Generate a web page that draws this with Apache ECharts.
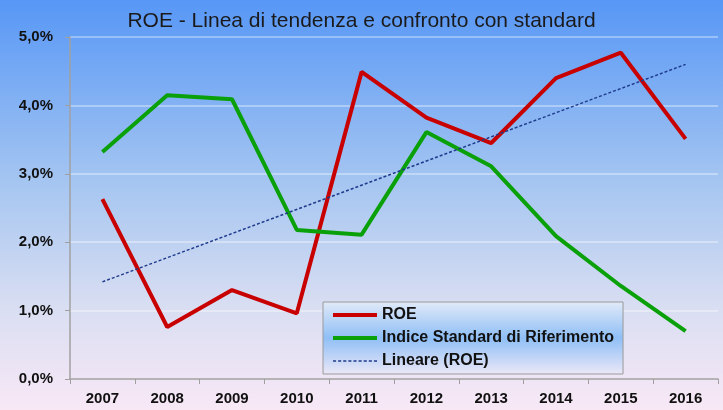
<!DOCTYPE html>
<html>
<head>
<meta charset="utf-8">
<script src="https://cdn.jsdelivr.net/npm/echarts@6/dist/echarts.min.js"></script>
<style>
  html, body { margin: 0; padding: 0; }
  #chart { width: 723px; height: 410px; }
</style>
</head>
<body>
<div id="chart"></div>
<script>
var years = ['2007', '2008', '2009', '2010', '2011', '2012', '2013', '2014', '2015', '2016'];
var roe = [2.63, 0.76, 1.30, 0.96, 4.49, 3.82, 3.45, 4.40, 4.77, 3.51];
var indice = [3.32, 4.15, 4.09, 2.18, 2.11, 3.61, 3.11, 2.09, 1.36, 0.70];
// trend line: only its two ends, joined straight
var lineare = [1.42, '-', '-', '-', '-', '-', '-', '-', '-', 4.60];

var font = '"Liberation Sans", sans-serif';

// legend glyphs: a thick bar, and a row of small dashes
var solidIcon = 'path://M0,0 L44,0 L44,4 L0,4 Z';
var dashIcon = 'path://' + (function () {
    var p = '';
    for (var x = 0; x < 44; x += 5) {
        p += 'M' + x + ',0 L' + (x + 3) + ',0 L' + (x + 3) + ',1.5 L' + x + ',1.5 Z ';
    }
    return p;
})();

var chart = echarts.init(document.getElementById('chart'));

var option = {
    backgroundColor: new echarts.graphic.LinearGradient(0, 0, 0, 1, [
        { offset: 0, color: '#5797f6' },
        { offset: 0.45, color: '#a6c6f1' },
        { offset: 0.75, color: '#d9def2' },
        { offset: 1, color: '#f8e8f6' }
    ]),
    title: {
        text: 'ROE - Linea di tendenza e confronto con standard',
        left: 'center',
        top: 6,
        textStyle: { fontFamily: font, fontSize: 21, fontWeight: 'normal', color: '#1a1a1a' }
    },
    grid: { left: 70, right: 5, top: 37, bottom: 31 },
    legend: {
        orient: 'vertical',
        left: 323,
        top: 302,
        padding: [5, 9, 5, 10],
        itemGap: 7,
        itemWidth: 44,
        itemHeight: 15,
        backgroundColor: new echarts.graphic.LinearGradient(0, 0, 0, 1, [
            { offset: 0, color: '#e2eaf8' },
            { offset: 0.5, color: '#8fbff6' },
            { offset: 1, color: '#ece8f7' }
        ]),
        borderColor: '#9a9a9a',
        borderWidth: 1,
        textStyle: { fontFamily: font, fontSize: 16, fontWeight: 'bold', color: '#111' },
        data: [
            { name: 'ROE', icon: solidIcon },
            { name: 'Indice Standard di Riferimento', icon: solidIcon },
            { name: 'Lineare (ROE)', icon: dashIcon }
        ]
    },
    xAxis: {
        type: 'category',
        data: years,
        boundaryGap: true,
        axisLine: { lineStyle: { color: '#a0a0a0', width: 1.5 } },
        axisTick: { show: true, length: 5, lineStyle: { color: '#a0a0a0' } },
        axisLabel: { fontFamily: font, fontSize: 15, fontWeight: 'bold', color: '#111', margin: 12 },
        splitLine: { show: false }
    },
    yAxis: {
        type: 'value',
        min: 0,
        max: 5,
        interval: 1,
        axisLine: { show: true, lineStyle: { color: '#a0a0a0', width: 1.5 } },
        axisTick: { show: true, length: 5, lineStyle: { color: '#a0a0a0' } },
        axisLabel: {
            fontFamily: font, fontSize: 15, fontWeight: 'bold', color: '#111', margin: 17,
            formatter: function (v) { return v.toFixed(1).replace('.', ',') + '%'; }
        },
        splitLine: { lineStyle: { color: 'rgba(255,255,255,0.45)', width: 1.5 } }
    },
    series: [
        {
            name: 'ROE',
            type: 'line',
            data: roe,
            symbol: 'none',
            itemStyle: { color: '#c80000' },
            lineStyle: { color: '#c80000', width: 4 },
            z: 3
        },
        {
            name: 'Indice Standard di Riferimento',
            type: 'line',
            data: indice,
            symbol: 'none',
            itemStyle: { color: '#0aa00a' },
            lineStyle: { color: '#0aa00a', width: 4 },
            z: 3
        },
        {
            name: 'Lineare (ROE)',
            type: 'line',
            data: lineare,
            connectNulls: true,
            symbol: 'none',
            itemStyle: { color: '#1f3b8c' },
            lineStyle: { color: '#1f3b8c', width: 1.5, type: [3, 2] },
            z: 4
        }
    ]
};

chart.setOption(option);
</script>
</body>
</html>
